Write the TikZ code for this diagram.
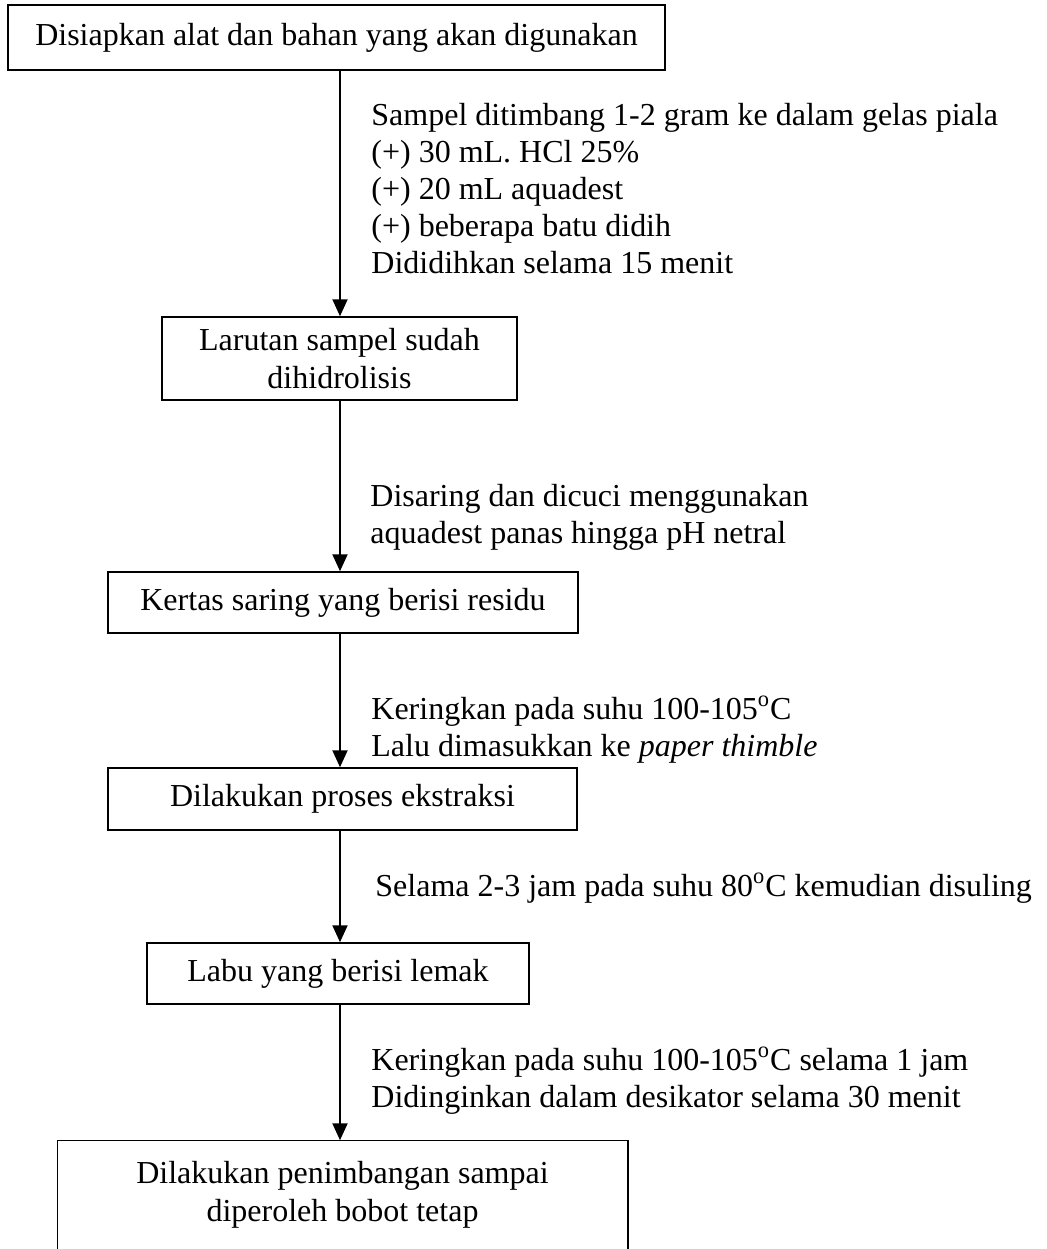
\documentclass[tikz,border=0pt]{standalone}
\usepackage{fontspec}
\setmainfont{Liberation Serif}
\usetikzlibrary{arrows.meta}
\begin{document}
\begin{tikzpicture}[x=0.5pt,y=-0.5pt,
  box/.style={draw, line width=0.75pt, inner sep=0pt, align=center, font=\fontsize{16}{19}\selectfont},
  note/.style={anchor=base west, inner sep=0pt, align=left, font=\fontsize{16}{18.5}\selectfont},
  arr/.style={line width=1pt, -{Triangle[width=7.5pt,length=8.5pt]}}]
\clip (0,0) rectangle (1047,1249);
\useasboundingbox (0,0) rectangle (1047,1249);
\fill[white] (0,0) rectangle (1047,1249);
\coordinate (ax) at (340,0);
% boxes
\node[box, minimum width=328.5pt, minimum height=32.5pt] (b1) at (336.5,37.5) {Disiapkan alat dan bahan yang akan digunakan};
\node[box, minimum width=177.5pt, minimum height=41.5pt] (b2) at (339.5,358.5) {Larutan sampel sudah\\dihidrolisis};
\node[box, minimum width=235pt, minimum height=30.5pt] (b3) at (343,602.5) {Kertas saring yang berisi residu};
\node[box, minimum width=234.5pt, minimum height=31pt] (b4) at (342.5,799) {Dilakukan proses ekstraksi};
\node[box, minimum width=191pt, minimum height=30.5pt] (b5) at (338,973.5) {Labu yang berisi lemak};
\node[box, draw=none, minimum width=284.5pt, minimum height=54pt] (b6) at (342.5,1195) {Dilakukan penimbangan sampai\\diperoleh bobot tetap};
\draw[line width=0.75pt] ([yshift=-100pt]b6.north west) -- (b6.north west) -- (b6.north east) -- ([yshift=-100pt]b6.north east);
% arrows
\draw[arr] (b1.south -| ax) -- (b2.north -| ax);
\draw[arr] (b2.south -| ax) -- (b3.north -| ax);
\draw[arr] (b3.south -| ax) -- (b4.north -| ax);
\draw[arr] (b4.south -| ax) -- (b5.north -| ax);
\draw[arr] (b5.south -| ax) -- (b6.north -| ax);
% notes (base anchor = baseline of last line)
\node[note] (n1) at (371,273) {Sampel ditimbang 1-2 gram ke dalam gelas piala\\(+) 30 mL. HCl 25\%\\(+) 20 mL aquadest\\(+) beberapa batu didih\\Dididihkan selama 15 menit};
\node[note] (n2) at (370,543) {Disaring dan dicuci menggunakan\\aquadest panas hingga pH netral};
\node[note] (n3) at (371,756) {Keringkan pada suhu 100-105\textsuperscript{o}C\\Lalu dimasukkan ke \textit{paper thimble}};
\node[note] (n4) at (375,896) {Selama 2-3 jam pada suhu 80\textsuperscript{o}C kemudian disuling};
\node[note] (n5) at (371,1107) {Keringkan pada suhu 100-105\textsuperscript{o}C selama 1 jam\\Didinginkan dalam desikator selama 30 menit};
\end{tikzpicture}
\end{document}
